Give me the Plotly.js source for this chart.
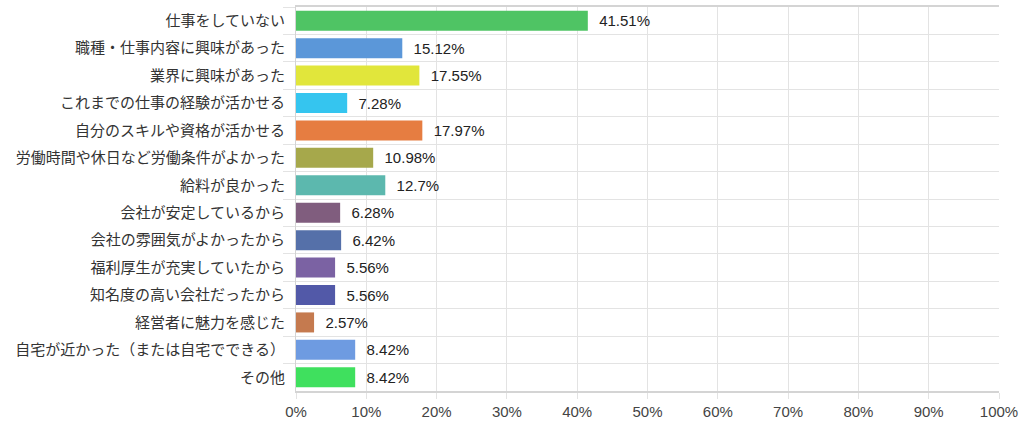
<!DOCTYPE html>
<html>
<head>
<meta charset="utf-8">
<script src="https://cdn.plot.ly/plotly-3.0.1.min.js"></script>
<style>
  html, body { margin: 0; padding: 0; background: #fff; }
  #chart { width: 1024px; height: 426px; }
</style>
</head>
<body>
<div id="chart"></div>
<script>
// reasons (top to bottom) and share of answers in %
var categories = [
    "仕事をしていない",
    "職種・仕事内容に興味があった",
    "業界に興味があった",
    "これまでの仕事の経験が活かせる",
    "自分のスキルや資格が活かせる",
    "労働時間や休日など労働条件がよかった",
    "給料が良かった",
    "会社が安定しているから",
    "会社の雰囲気がよかったから",
    "福利厚生が充実していたから",
    "知名度の高い会社だったから",
    "経営者に魅力を感じた",
    "自宅が近かった（または自宅でできる）",
    "その他"
];
var values = [41.51, 15.12, 17.55, 7.28, 17.97, 10.98, 12.7, 6.28, 6.42, 5.56, 5.56, 2.57, 8.42, 8.42];
var barColors = [
    "#4fc464", "#5b97d9", "#e1e63b", "#35c5ef", "#e67d41", "#a6a84b", "#5cb8ae",
    "#805d7e", "#5570a9", "#7b62a3", "#5259a8", "#c57a4f", "#6e9be1", "#3fe05e"
];
var xTicks = [0, 10, 20, 30, 40, 50, 60, 70, 80, 90, 100];

var labels = values.map(function(v) { return "  " + v + "%"; });
var fam = 'Liberation Sans, Noto Sans CJK JP, sans-serif';

var data = [{
    type: 'bar',
    orientation: 'h',
    x: values,
    y: categories,
    marker: { color: barColors, line: { width: 0 } },
    text: labels,
    textposition: 'outside',
    cliponaxis: false,
    textfont: { family: fam, size: 15, color: '#222' },
    hoverinfo: 'none'
}];

var layout = {
    width: 1024,
    height: 426,
    margin: { l: 296, r: 25, t: 7, b: 35 },
    paper_bgcolor: '#fff',
    plot_bgcolor: '#fff',
    showlegend: false,
    bargap: 0.27,
    font: { family: fam, size: 15, color: '#333' },
    xaxis: {
        range: [0, 100],
        tickvals: xTicks,
        ticktext: xTicks.map(function(t) { return t + '%'; }),
        showgrid: true,
        gridcolor: '#e3e3e3',
        zeroline: false,
        showline: true,
        linecolor: '#d4d4d4',
        linewidth: 2,
        mirror: true,
        ticks: 'outside',
        ticklen: 6,
        tickcolor: '#e3e3e3',
        tickfont: { family: fam, size: 15, color: '#444' },
        fixedrange: true
    },
    yaxis: {
        type: 'category',
        autorange: 'reversed',
        tickson: 'boundaries',
        ticks: 'outside',
        ticklen: 12,
        tickcolor: '#e3e3e3',
        ticklabelstandoff: 7,
        showgrid: true,
        gridcolor: '#e3e3e3',
        showline: true,
        linecolor: '#d4d4d4',
        linewidth: 1,
        tickfont: { family: fam, size: 15, color: '#333' },
        fixedrange: true
    }
};

Plotly.newPlot(document.getElementById('chart'), data, layout, { staticPlot: true });
</script>
</body>
</html>
